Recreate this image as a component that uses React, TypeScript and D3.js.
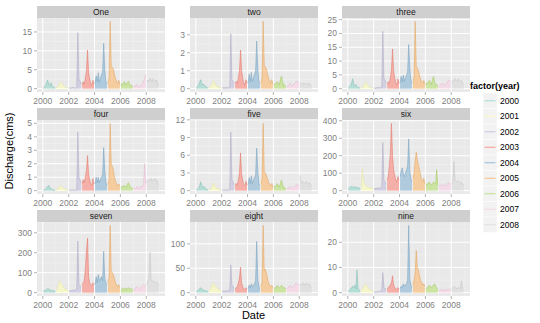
import React from "react";
import * as d3 from "d3";

const panelNames = ["One", "two", "three", "four", "five", "six", "seven", "eight", "nine"];
const years = [2000, 2001, 2002, 2003, 2004, 2005, 2006, 2007, 2008];
const yearColors = ["#8dd3c7", "#ffffb3", "#bebada", "#fb8072", "#80b1d3", "#fdb462", "#b3de69", "#fccde5", "#d9d9d9"];
const xTickLabels = [2000, 2002, 2004, 2006, 2008];

const yTicksOne = [0, 5, 10, 15];
const yTicksTwo = [0, 1, 2, 3];
const yTicksThree = [0, 5, 10, 15, 20, 25];
const yTicksFour = [0, 1, 2, 3, 4, 5];
const yTicksFive = [0, 3, 6, 9, 12];
const yTicksSix = [0, 100, 200, 300, 400];
const yTicksSeven = [0, 100, 200, 300];
const yTicksEight = [0, 50, 100];
const yTicksNine = [0, 10, 20];

// monthly discharge per year (Jan..Dec), one row per year 2000..2008
const seriesOne = [
  [0.2, 0.4, 0.9, 1.5, 2.3, 1.2, 0.8, 1.6, 0.9, 0.5, 0.3, 0.2],
  [0.2, 0.3, 0.6, 1.2, 1.9, 1.4, 1.0, 0.7, 0.4, 0.3, 0.2, 0.2],
  [0.2, 0.2, 0.2, 0.3, 0.3, 0.2, 0.2, 0.4, 14.8, 2.6, 2.0, 1.2],
  [1.0, 1.8, 1.2, 2.8, 4.8, 10.2, 4.2, 2.6, 1.4, 0.9, 2.2, 1.1],
  [1.3, 3.4, 1.8, 4.2, 1.6, 2.8, 3.6, 4.5, 12.0, 5.0, 1.8, 1.3],
  [1.6, 2.9, 17.8, 6.0, 5.6, 5.2, 3.6, 2.6, 1.8, 1.4, 2.2, 1.1],
  [0.7, 1.4, 1.1, 1.9, 1.4, 0.9, 1.7, 2.0, 1.1, 0.7, 0.9, 0.5],
  [0.4, 0.7, 0.9, 1.1, 0.7, 0.5, 0.7, 0.9, 1.4, 1.9, 2.8, 3.8],
  [1.8, 2.3, 1.8, 2.8, 2.3, 1.8, 2.6, 2.0, 1.8, 2.3, 1.4, 0.9],
];
const seriesTwo = [
  [0.05, 0.1, 0.2, 0.35, 0.5, 0.3, 0.2, 0.25, 0.15, 0.1, 0.05, 0.05],
  [0.05, 0.1, 0.15, 0.3, 0.45, 0.3, 0.2, 0.15, 0.1, 0.05, 0.05, 0.05],
  [0.05, 0.05, 0.05, 0.05, 0.05, 0.05, 0.05, 0.1, 3.05, 0.5, 0.4, 0.3],
  [0.3, 0.4, 0.3, 0.6, 1.0, 2.15, 1.0, 0.6, 0.3, 0.2, 0.5, 0.3],
  [0.3, 0.8, 0.4, 0.9, 0.4, 0.6, 0.8, 1.0, 2.65, 1.1, 0.4, 0.3],
  [0.35, 0.6, 3.75, 1.3, 1.2, 1.1, 0.8, 0.6, 0.4, 0.3, 0.5, 0.25],
  [0.15, 0.3, 0.25, 0.4, 0.3, 0.2, 0.5, 0.7, 0.4, 0.2, 0.2, 0.1],
  [0.1, 0.15, 0.2, 0.3, 0.2, 0.15, 0.2, 0.3, 0.35, 0.4, 0.4, 0.3],
  [0.25, 0.3, 0.25, 0.3, 0.3, 0.25, 0.3, 0.3, 0.25, 0.3, 0.2, 0.15],
];
const seriesThree = [
  [0.3, 0.6, 1.2, 2.0, 3.6, 1.8, 1.0, 1.5, 0.8, 0.5, 0.3, 0.2],
  [0.2, 0.4, 0.8, 1.5, 2.5, 1.8, 1.2, 0.8, 0.5, 0.3, 0.2, 0.2],
  [0.2, 0.2, 0.3, 0.3, 0.4, 0.3, 0.3, 0.8, 20.8, 3.5, 3.0, 2.0],
  [1.5, 2.5, 2.0, 4.0, 7.0, 14.4, 6.5, 4.0, 2.0, 1.5, 3.5, 1.8],
  [2.0, 4.5, 2.5, 5.0, 2.5, 4.0, 5.0, 6.0, 16.0, 7.6, 3.0, 2.0],
  [2.5, 4.5, 24.4, 8.0, 7.5, 6.5, 5.0, 3.5, 2.5, 2.0, 3.0, 1.5],
  [1.2, 2.2, 1.8, 3.0, 2.5, 1.5, 3.0, 4.5, 2.5, 1.5, 1.5, 1.0],
  [0.8, 1.2, 1.5, 2.0, 1.5, 1.2, 1.5, 2.0, 2.5, 3.0, 3.0, 2.5],
  [2.5, 3.0, 2.5, 3.5, 3.0, 2.5, 3.5, 3.0, 2.5, 3.0, 2.0, 1.5],
];
const seriesFour = [
  [0.05, 0.05, 0.1, 0.2, 0.3, 0.4, 0.2, 0.15, 0.1, 0.05, 0.05, 0.05],
  [0.05, 0.1, 0.15, 0.25, 0.4, 0.3, 0.2, 0.15, 0.1, 0.05, 0.05, 0.05],
  [0.05, 0.05, 0.05, 0.05, 0.05, 0.05, 0.05, 0.1, 4.35, 1.0, 0.8, 0.6],
  [0.5, 0.8, 0.6, 1.0, 1.5, 2.6, 1.2, 0.8, 0.5, 0.4, 0.9, 0.5],
  [0.5, 1.0, 0.6, 1.0, 0.6, 0.8, 1.0, 1.2, 3.2, 1.5, 0.6, 0.4],
  [0.5, 0.8, 5.0, 2.0, 1.8, 1.5, 1.0, 0.7, 0.5, 0.4, 0.5, 0.3],
  [0.2, 0.3, 0.3, 0.4, 0.3, 0.25, 0.5, 0.6, 0.4, 0.25, 0.2, 0.15],
  [0.1, 0.15, 0.2, 0.3, 0.25, 0.2, 0.25, 0.3, 0.35, 0.4, 2.0, 0.5],
  [0.6, 0.8, 0.7, 0.8, 0.9, 0.7, 0.8, 0.9, 0.8, 0.8, 0.6, 0.4],
];
const seriesFive = [
  [0.1, 0.2, 0.4, 0.8, 1.5, 0.9, 0.5, 0.7, 0.4, 0.3, 0.2, 0.1],
  [0.1, 0.2, 0.4, 0.8, 1.3, 0.9, 0.6, 0.4, 0.3, 0.2, 0.1, 0.1],
  [0.1, 0.1, 0.1, 0.1, 0.15, 0.1, 0.1, 0.3, 9.9, 1.8, 1.5, 1.0],
  [0.8, 1.2, 1.0, 1.8, 3.0, 6.4, 2.8, 1.8, 1.0, 0.8, 1.6, 0.9],
  [1.0, 2.2, 1.2, 2.5, 1.2, 1.8, 2.2, 2.6, 7.2, 3.5, 1.2, 0.9],
  [1.2, 2.0, 11.4, 3.2, 3.0, 2.6, 2.0, 1.5, 1.0, 0.8, 1.2, 0.6],
  [0.4, 0.8, 0.7, 1.2, 0.9, 0.6, 1.2, 1.8, 1.0, 0.6, 0.5, 0.3],
  [0.3, 0.4, 0.5, 0.7, 0.5, 0.4, 0.5, 0.7, 0.8, 1.0, 1.0, 0.9],
  [2.6, 1.5, 1.2, 1.6, 1.4, 1.2, 1.6, 1.4, 1.2, 1.4, 1.0, 0.7],
];
const seriesSix = [
  [15, 18, 20, 25, 22, 18, 20, 22, 18, 16, 15, 14],
  [20, 125, 60, 40, 30, 25, 20, 18, 16, 15, 14, 14],
  [12, 12, 12, 14, 15, 14, 15, 20, 275, 60, 50, 40],
  [60, 80, 140, 220, 385, 200, 120, 90, 60, 50, 80, 60],
  [80, 110, 130, 100, 80, 100, 120, 140, 296, 110, 70, 50],
  [70, 100, 170, 220, 180, 150, 120, 90, 60, 50, 70, 40],
  [30, 40, 35, 50, 40, 30, 40, 50, 45, 40, 120, 30],
  [25, 30, 30, 35, 30, 28, 30, 35, 40, 45, 40, 35],
  [40, 50, 165, 60, 55, 50, 55, 50, 45, 50, 40, 30],
];
const seriesSeven = [
  [8, 10, 12, 15, 20, 18, 15, 12, 10, 8, 8, 8],
  [10, 20, 40, 60, 50, 45, 35, 25, 20, 15, 12, 10],
  [10, 10, 10, 12, 12, 12, 15, 20, 258, 40, 35, 30],
  [40, 50, 60, 120, 211, 273, 80, 50, 40, 35, 50, 40],
  [40, 80, 50, 90, 60, 70, 80, 60, 207, 70, 50, 40],
  [50, 80, 337, 110, 100, 90, 70, 50, 40, 30, 40, 25],
  [15, 20, 18, 22, 20, 18, 20, 25, 20, 18, 20, 15],
  [15, 20, 25, 30, 25, 20, 25, 30, 35, 40, 35, 30],
  [40, 60, 70, 202, 60, 55, 60, 55, 50, 55, 45, 35],
];
const seriesEight = [
  [3, 4, 5, 8, 10, 8, 6, 5, 4, 3, 3, 3],
  [5, 8, 12, 18, 20, 15, 12, 10, 8, 6, 5, 4],
  [3, 3, 3, 3, 4, 4, 4, 6, 57, 15, 12, 10],
  [8, 10, 12, 20, 30, 52, 20, 12, 8, 6, 10, 8],
  [8, 15, 10, 18, 12, 15, 18, 25, 105, 28, 12, 8],
  [12, 20, 138, 45, 48, 40, 30, 20, 15, 12, 15, 10],
  [8, 10, 10, 15, 12, 10, 12, 15, 12, 10, 10, 8],
  [8, 10, 12, 15, 12, 10, 12, 15, 18, 20, 18, 15],
  [15, 18, 15, 20, 18, 15, 20, 18, 15, 18, 12, 10],
];
const seriesNine = [
  [0.5, 1, 1.5, 2, 2.5, 2, 3, 1.5, 9, 2, 1, 0.5],
  [1, 1.5, 2, 3, 3.5, 2.5, 2, 1.5, 1, 0.8, 0.6, 0.5],
  [0.3, 0.3, 0.3, 0.4, 0.5, 0.5, 0.6, 1, 8, 2, 1.5, 1.2],
  [1.5, 2, 2.5, 3, 4, 6.7, 3, 2, 1.5, 1.2, 2, 1.5],
  [1.5, 2.5, 2, 3.5, 2.5, 3, 3.5, 5, 26.7, 5.5, 3, 2],
  [3, 5, 8, 16.7, 10, 9, 7, 5, 4, 3, 3.5, 2.5],
  [1.5, 2, 2, 3, 2.5, 2, 2.5, 3, 3.5, 2.5, 2, 1.5],
  [0.8, 1, 1, 1.2, 1, 0.8, 1, 1.2, 1.3, 1.5, 1.2, 1],
  [1.5, 2, 2.5, 2, 1.8, 1.5, 1.8, 2, 1.5, 4.7, 1.2, 1],
];

const allSeries = [seriesOne, seriesTwo, seriesThree, seriesFour, seriesFive, seriesSix, seriesSeven, seriesEight, seriesNine];
const allTicks = [yTicksOne, yTicksTwo, yTicksThree, yTicksFour, yTicksFive, yTicksSix, yTicksSeven, yTicksEight, yTicksNine];

const FONT = "'Liberation Sans', Arial, Helvetica, sans-serif";
const colX = [37, 190, 342];
const rowY = [6, 108, 210];
const PW = 128;
const STRIP = 12;
const PH = 74;

function Panel({ idx }: { idx: number }) {
  const name = panelNames[idx];
  const series = allSeries[idx];
  const ticks = allTicks[idx];
  const x0 = colX[idx % 3];
  const y0 = rowY[Math.floor(idx / 3)];
  const x = d3.scaleLinear().domain([1999.55, 2009.45]).range([0, PW]);
  const maxV = d3.max(series.flat()) as number;
  const y = d3.scaleLinear().domain([-0.05 * maxV, maxV * 1.05]).range([PH, 0]);
  const step = ticks[1] - ticks[0];
  const minorY: number[] = [];
  for (let i = 0; i < ticks.length; i++) {
    const m = ticks[i] + step / 2;
    if (m < y.domain()[1]) minorY.push(m);
  }
  const minorX = [2001, 2003, 2005, 2007, 2009];
  const majorX = d3.range(2000, 2009, 2);
  const area = d3
    .area<[number, number]>()
    .x((d) => x(d[0]))
    .y0(y(0))
    .y1((d) => y(d[1]));
  const line = d3
    .line<[number, number]>()
    .x((d) => x(d[0]))
    .y((d) => y(d[1]));
  const clipId = `clip-${idx}`;
  return (
    <g transform={`translate(${x0},${y0})`}>
      <rect x={0} y={0} width={PW} height={STRIP} fill="#cfcfcf" />
      <text x={PW / 2} y={STRIP / 2 + 3} textAnchor="middle" fontSize={8.5} fill="#1a1a1a" fontFamily={FONT}>
        {name}
      </text>
      <g transform={`translate(0,${STRIP})`}>
        <clipPath id={clipId}>
          <rect x={0} y={0} width={PW} height={PH} />
        </clipPath>
        <rect x={0} y={0} width={PW} height={PH} fill="#e9e9e9" />
        {minorX.map((v) => (
          <line key={"mx" + v} x1={x(v)} x2={x(v)} y1={0} y2={PH} stroke="#f3f3f3" strokeWidth={0.5} />
        ))}
        {minorY.map((v) => (
          <line key={"my" + v} x1={0} x2={PW} y1={y(v)} y2={y(v)} stroke="#f3f3f3" strokeWidth={0.5} />
        ))}
        {majorX.map((v) => (
          <line key={"Mx" + v} x1={x(v)} x2={x(v)} y1={0} y2={PH} stroke="#ffffff" strokeWidth={1} />
        ))}
        {ticks.map((v) => (
          <line key={"My" + v} x1={0} x2={PW} y1={y(v)} y2={y(v)} stroke="#ffffff" strokeWidth={1} />
        ))}
        <g clipPath={`url(#${clipId})`}>
          {series.map((vals, yi) => {
            const pts: [number, number][] = vals.map((v, m) => [years[yi] + (m + 0.5) / 12, v]);
            const c = yearColors[yi];
            return (
              <g key={yi}>
                <path d={area(pts) || ""} fill={c} fillOpacity={0.55} stroke="none" />
                <path d={line(pts) || ""} fill="none" stroke={d3.color(c)!.darker(0.3).formatHex()} strokeOpacity={0.75} strokeWidth={0.7} />
              </g>
            );
          })}
        </g>
        {ticks.map((v) => (
          <g key={"yt" + v}>
            <line x1={-3} x2={0} y1={y(v)} y2={y(v)} stroke="#7f7f7f" strokeWidth={0.6} />
            <text x={-5} y={y(v) + 3} textAnchor="end" fontSize={8.5} fill="#7f7f7f" fontFamily={FONT}>
              {v}
            </text>
          </g>
        ))}
        {xTickLabels.map((v) => (
          <g key={"xt" + v}>
            <line x1={x(v)} x2={x(v)} y1={PH} y2={PH + 3} stroke="#7f7f7f" strokeWidth={0.6} />
            <text x={x(v)} y={PH + 11.5} textAnchor="middle" fontSize={8.5} fill="#7f7f7f" fontFamily={FONT}>
              {v}
            </text>
          </g>
        ))}
      </g>
    </g>
  );
}

export default function App() {
  const legendTop = 93;
  const keyH = 15.5;
  return (
    <svg width={540} height={323} style={{ position: "absolute", left: 0, top: 0, background: "#ffffff" }}>
      <rect x={0} y={0} width={540} height={323} fill="#ffffff" />
      {panelNames.map((_, i) => (
        <Panel key={i} idx={i} />
      ))}
      <text x={253.5} y={319} textAnchor="middle" fontSize={11} fill="#000" fontFamily={FONT}>
        Date
      </text>
      <text transform="translate(13,151) rotate(-90)" textAnchor="middle" fontSize={11} fill="#000" fontFamily={FONT}>
        Discharge(cms)
      </text>
      <text x={470} y={89} fontSize={9} fontWeight="bold" fill="#000" fontFamily={FONT}>
        factor(year)
      </text>
      {years.map((yr, i) => {
        const ty = legendTop + i * keyH;
        return (
          <g key={yr}>
            <rect x={483} y={ty} width={14} height={keyH} fill="#f2f2f2" stroke="#ffffff" strokeWidth={0.5} />
            <line x1={484.5} x2={495.5} y1={ty + keyH / 2} y2={ty + keyH / 2} stroke={yearColors[i]} strokeWidth={1} strokeOpacity={0.8} />
            <text x={500} y={ty + keyH / 2 + 3} fontSize={8.5} fill="#000" fontFamily={FONT}>
              {yr}
            </text>
          </g>
        );
      })}
    </svg>
  );
}
